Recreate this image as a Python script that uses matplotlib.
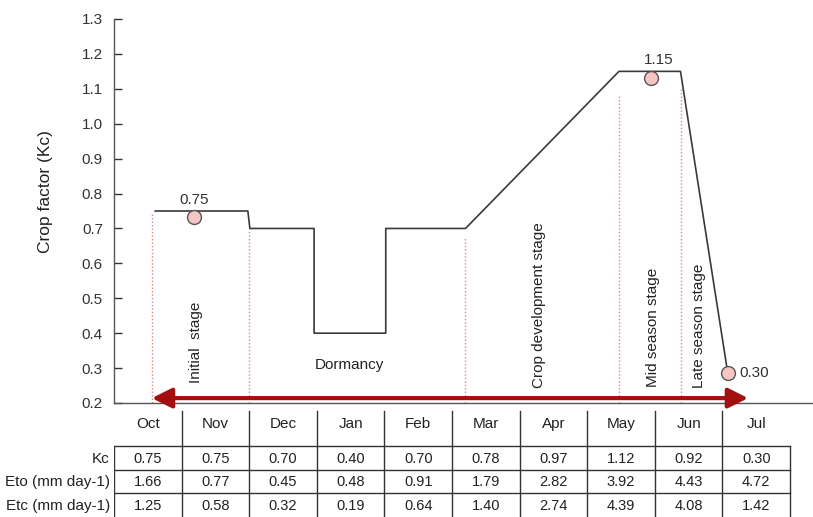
import matplotlib
matplotlib.use('Agg')
import matplotlib.pyplot as plt

plt.rcParams['font.family'] = ['Liberation Sans', 'DejaVu Sans']

# table data (one column per month)
months = ['Oct', 'Nov', 'Dec', 'Jan', 'Feb', 'Mar', 'Apr', 'May', 'Jun', 'Jul']
kc_month = [0.75, 0.75, 0.70, 0.40, 0.70, 0.78, 0.97, 1.12, 0.92, 0.30]
eto_month = [1.66, 0.77, 0.45, 0.48, 0.91, 1.79, 2.82, 3.92, 4.43, 4.72]
etc_month = [1.25, 0.58, 0.32, 0.19, 0.64, 1.40, 2.74, 4.39, 4.08, 1.42]
row_names = ['Kc', 'Eto (mm day-1)', 'Etc (mm day-1)']

# Kc curve, x in months from start of Oct
curve_x = [0.61, 1.98, 2.01, 2.96, 2.96, 4.02, 4.02, 5.20, 7.47, 8.38, 9.08]
curve_y = [0.75, 0.75, 0.70, 0.70, 0.40, 0.40, 0.70, 0.70, 1.15, 1.15, 0.285]

# stage points with labels
point_x = [1.18, 7.94, 9.08]
point_y = [0.732, 1.131, 0.285]
point_lab = ['0.75', '1.15', '0.30']

# stage boundaries
bound_x = [0.56, 2.0, 5.19, 7.47, 8.39]
bound_top = [0.741, 0.699, 0.673, 1.086, 1.106]

# stage names
stage_names = ['Initial  stage', 'Crop development stage', 'Mid season stage', 'Late season stage']
stage_x = [1.21, 6.29, 7.97, 8.65]
stage_bottom = [0.257, 0.243, 0.245, 0.243]

W, H = 813, 517
px0, colw = 114, 67.6  # left edge and width of a month column in pixels
fig = plt.figure(figsize=(W / 100, H / 100), dpi=100)

ax = fig.add_axes([px0 / W, (H - 403) / H, (812 - px0) / W, 384 / H])
xmax = (812 - px0) / colw
ax.set_xlim(0, xmax)
ax.set_ylim(0.2, 1.3)
ax.set_yticks([0.2 + 0.1 * i for i in range(12)])
ax.set_yticklabels(['%.1f' % (0.2 + 0.1 * i) for i in range(12)])
ax.tick_params(axis='y', direction='in', length=6, width=1, pad=8, labelsize=11, colors='#333333')
ax.set_xticks([])
for s in ['top', 'right']:
    ax.spines[s].set_visible(False)
for s in ['left', 'bottom']:
    ax.spines[s].set_color('#555555')
    ax.spines[s].set_linewidth(1)
ax.set_ylabel('Crop factor (Kc)', fontsize=12.5, color='#222222')
ax.yaxis.set_label_coords(-0.088, 0.55)

# dotted stage boundaries
for bx, bt in zip(bound_x, bound_top):
    ax.plot([bx, bx], [0.2, bt], linestyle=(0, (1, 1.5)), color='#f08080', lw=1)

# Kc curve
ax.plot(curve_x, curve_y, color='#3a3a3a', lw=1.2)
ax.plot(point_x, point_y, 'o', ms=10, mfc='#f7c4c4', mec='#555555', mew=1, zorder=5)
ax.text(point_x[0], 0.781, point_lab[0], ha='center', va='center', fontsize=11, color='#333333')
ax.text(8.06, 1.183, point_lab[1], ha='center', va='center', fontsize=11, color='#333333')
ax.text(9.25, point_y[2], point_lab[2], ha='left', va='center', fontsize=11, color='#333333')

# stage labels
for name, sx, sb in zip(stage_names, stage_x, stage_bottom):
    ax.text(sx, sb, name, rotation=90, ha='center', va='bottom', fontsize=11, color='#222222')
ax.text(3.49, 0.308, 'Dormancy', ha='center', va='center', fontsize=11, color='#222222')

# season arrow
ax.annotate('', xy=(9.38, 0.214), xytext=(0.56, 0.214),
            arrowprops=dict(arrowstyle='<|-|>,head_length=0.6,head_width=0.3',
                            mutation_scale=20, color='#a30f0f', lw=3,
                            shrinkA=0, shrinkB=0))

# table below the chart, y in pixels
tab = fig.add_axes([px0 / W, 0, (812 - px0) / W, (H - 403) / H])
tab.set_xlim(0, xmax)
tab.set_ylim(H, 403)
tab.axis('off')
lc = '#333333'
for i in range(1, 10):
    tab.plot([i, i], [411, H], color=lc, lw=1)
for yy in [446, 470, 493]:
    tab.plot([0, 10], [yy, yy], color=lc, lw=1)
tab.plot([0, 0], [446, H], color=lc, lw=1)
tab.plot([10, 10], [446, H], color=lc, lw=1)

for i, m in enumerate(months):
    tab.text(i + 0.5, 424, m, ha='center', va='center', fontsize=11, color='#222222')
row_y = [459, 482, 506]
for vals, ry in zip([kc_month, eto_month, etc_month], row_y):
    for i, v in enumerate(vals):
        tab.text(i + 0.5, ry, '%.2f' % v, ha='center', va='center', fontsize=10.5, color='#222222')
for name, ry in zip(row_names, row_y):
    tab.text(-0.06, ry, name, ha='right', va='center', fontsize=11, color='#222222')

fig.savefig('out.png', dpi=100)
